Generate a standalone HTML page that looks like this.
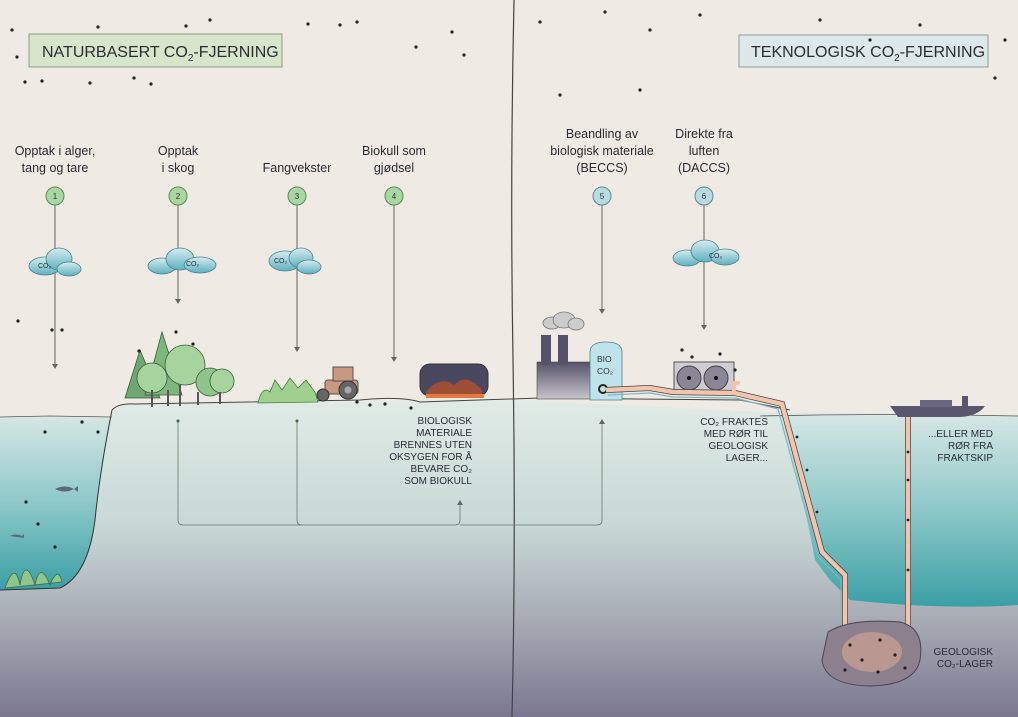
<!DOCTYPE html>
<html><head><meta charset="utf-8"><style>
html,body{margin:0;padding:0;width:1018px;height:717px;overflow:hidden;background:#efebe4}
svg{display:block;font-family:"Liberation Sans",sans-serif}
.l{font-size:12.5px;fill:#2a2a36}
.s{font-size:10px;fill:#2a2a36}
</style></head><body>
<svg width="1018" height="717" viewBox="0 0 1018 717" xmlns="http://www.w3.org/2000/svg">
<defs>
<linearGradient id="ug" x1="0" y1="0" x2="0" y2="1">
<stop offset="0" stop-color="#e0ebe6"/><stop offset="0.4" stop-color="#c8d8d6"/><stop offset="0.7" stop-color="#a7aab4"/><stop offset="1" stop-color="#7b7790"/></linearGradient>
<linearGradient id="wt" x1="0" y1="0" x2="0" y2="1">
<stop offset="0" stop-color="#d4e6e4"/><stop offset="0.5" stop-color="#8cc8c8"/><stop offset="1" stop-color="#3a9fa6"/></linearGradient>
<linearGradient id="cl" x1="0" y1="0" x2="0" y2="1">
<stop offset="0" stop-color="#d6ecef"/><stop offset="1" stop-color="#5fb0c0"/></linearGradient>
<linearGradient id="fc" x1="0" y1="0" x2="0" y2="1">
<stop offset="0" stop-color="#56526a"/><stop offset="1" stop-color="#c8c4cc"/></linearGradient>
</defs>
<rect width="1018" height="717" fill="#efebe4"/>
<path d="M0,417 L110,417 Q118,404 130,404 L520,400 L760,412 L1018,415 L1018,717 L0,717Z" fill="url(#ug)"/>
<path d="M0,418 L112,418 Q100,470 95,520 Q88,575 60,588 L0,590Z" fill="url(#wt)"/>
<path d="M112,410 Q100,470 95,520 Q88,575 60,588 L0,590" fill="none" stroke="#333" stroke-width="1"/>
<path d="M0,417 L50,416 L112,417" fill="none" stroke="#555" stroke-width="0.8"/>
<path d="M780,416 L1018,416 L1018,605 Q940,610 850,600 L830,580 L815,560 Q800,480 780,416Z" fill="url(#wt)"/>
<path d="M760,416 Q890,413 1018,416" fill="none" stroke="#555" stroke-width="0.8"/>
<path d="M112,410 Q118,403 135,404 L360,400 Q400,396 420,402 L540,398 L740,400 L790,410" fill="none" stroke="#444" stroke-width="1"/>
<path d="M514,0 Q510,180 513,360 Q516,540 512,717" fill="none" stroke="#444" stroke-width="1.2"/>
<rect x="29" y="34" width="253" height="33" fill="#d7e6cb" stroke="#8c9b88"/>
<text x="42" y="57" font-size="16" fill="#2c2c36">NATURBASERT CO<tspan font-size="10" dy="4">2</tspan><tspan dy="-4">-FJERNING</tspan></text>
<rect x="739" y="35" width="249" height="32" fill="#dce8e9" stroke="#8f9d9e"/>
<text x="751" y="57" font-size="16" fill="#2c2c36">TEKNOLOGISK CO<tspan font-size="10" dy="4">2</tspan><tspan dy="-4">-FJERNING</tspan></text>
<g class="l" text-anchor="middle">
<text x="55" y="155">Opptak i alger,</text><text x="55" y="172">tang og tare</text>
<text x="178" y="155">Opptak</text><text x="178" y="172">i skog</text>
<text x="297" y="172">Fangvekster</text>
<text x="394" y="155">Biokull som</text><text x="394" y="172">gjødsel</text>
<text x="602" y="138">Beandling av</text><text x="602" y="155">biologisk materiale</text><text x="602" y="172">(BECCS)</text>
<text x="704" y="138">Direkte fra</text><text x="704" y="155">luften</text><text x="704" y="172">(DACCS)</text>
</g>
<g stroke="#666" stroke-width="1" fill="none">
<line x1="55" y1="205" x2="55" y2="367"/><line x1="178" y1="205" x2="178" y2="302"/>
<line x1="297" y1="205" x2="297" y2="350"/><line x1="394" y1="205" x2="394" y2="360"/>
<line x1="602" y1="205" x2="602" y2="312"/><line x1="704" y1="205" x2="704" y2="328"/>
</g>
<g fill="#666">
<path d="M52,364 L55,369 L58,364Z"/><path d="M175,299 L178,304 L181,299Z"/><path d="M294,347 L297,352 L300,347Z"/>
<path d="M391,357 L394,362 L397,357Z"/><path d="M599,309 L602,314 L605,309Z"/><path d="M701,325 L704,330 L707,325Z"/>
</g>
<g font-size="8" text-anchor="middle" fill="#333">
<circle cx="55" cy="196" r="9" fill="#a9d7a2" stroke="#5a8a58"/><text x="55" y="199">1</text>
<circle cx="178" cy="196" r="9" fill="#a9d7a2" stroke="#5a8a58"/><text x="178" y="199">2</text>
<circle cx="297" cy="196" r="9" fill="#a9d7a2" stroke="#5a8a58"/><text x="297" y="199">3</text>
<circle cx="394" cy="196" r="9" fill="#a9d7a2" stroke="#5a8a58"/><text x="394" y="199">4</text>
<circle cx="602" cy="196" r="9" fill="#b7dbe0" stroke="#5a8a90"/><text x="602" y="199">5</text>
<circle cx="704" cy="196" r="9" fill="#b7dbe0" stroke="#5a8a90"/><text x="704" y="199">6</text>
</g>
<g fill="url(#cl)" stroke="#4a8090" stroke-width="0.8">
<g transform="translate(55,264)"><ellipse cx="-10" cy="2" rx="16" ry="9"/><ellipse cx="4" cy="-5" rx="13" ry="11"/><ellipse cx="14" cy="5" rx="12" ry="7"/></g>
<g transform="translate(180,263)"><ellipse cx="-18" cy="3" rx="14" ry="8"/><ellipse cx="0" cy="-4" rx="14" ry="11"/><ellipse cx="20" cy="2" rx="16" ry="8"/></g>
<g transform="translate(295,262)"><ellipse cx="-10" cy="-1" rx="16" ry="10"/><ellipse cx="6" cy="-4" rx="12" ry="10"/><ellipse cx="14" cy="5" rx="12" ry="7"/></g>
<g transform="translate(705,255)"><ellipse cx="-18" cy="3" rx="14" ry="8"/><ellipse cx="0" cy="-4" rx="14" ry="11"/><ellipse cx="20" cy="2" rx="14" ry="8"/></g>
</g>
<g font-size="7" fill="#234">
<text x="38" y="268">CO₂</text><text x="186" y="266">CO₂</text><text x="274" y="263">CO₂</text><text x="709" y="258">CO₂</text>
</g>
<g stroke="#3c5a40" stroke-width="0.8">
<path d="M125,398 L140,350 L160,398Z" fill="#6ea870"/>
<path d="M145,395 L162,332 L182,395Z" fill="#7fb67d"/>
<circle cx="152" cy="378" r="15" fill="#a6d49c"/>
<circle cx="185" cy="365" r="20" fill="#a6d49c"/>
<circle cx="210" cy="382" r="14" fill="#8fc58a"/>
<circle cx="222" cy="381" r="12" fill="#a6d49c"/>
</g>
<g stroke="#555" stroke-width="2"><line x1="152" y1="390" x2="152" y2="407"/><line x1="168" y1="390" x2="168" y2="406"/><line x1="180" y1="385" x2="180" y2="406"/><line x1="198" y1="392" x2="198" y2="405"/><line x1="220" y1="392" x2="220" y2="404"/></g>
<path d="M258,403 Q262,385 270,392 L275,380 L282,390 L290,378 L298,388 L306,380 L315,392 L318,402Z" fill="#9fd08f" stroke="#4a7a48" stroke-width="0.8"/>
<rect x="325" y="380" width="33" height="14" rx="3" fill="#c89882" stroke="#555"/>
<rect x="333" y="367" width="20" height="14" fill="#c89882" stroke="#555"/>
<circle cx="348" cy="390" r="9" fill="#666" stroke="#333"/><circle cx="348" cy="390" r="3.5" fill="#aaa"/>
<circle cx="323" cy="395" r="6" fill="#666" stroke="#333"/>
<rect x="420" y="364" width="68" height="32" rx="10" fill="#4a4860" stroke="#333"/>
<path d="M426,392 Q440,375 454,385 Q466,372 482,390 L482,394 L426,394Z" fill="#b0502c" opacity="0.8"/>
<rect x="426" y="394" width="58" height="4" fill="#e07a40"/>
<rect x="537" y="362" width="54" height="37" fill="url(#fc)" stroke="#444" stroke-width="0.6"/>
<rect x="541" y="335" width="10" height="30" fill="#56526a"/><rect x="558" y="335" width="10" height="30" fill="#56526a"/>
<g fill="#ccc" stroke="#777" stroke-width="0.8"><ellipse cx="552" cy="323" rx="9" ry="6"/><ellipse cx="564" cy="320" rx="11" ry="8"/><ellipse cx="576" cy="324" rx="8" ry="6"/></g>
<path d="M590,400 L590,352 Q590,342 606,342 Q622,342 622,352 L622,400Z" fill="#bfe3ea" stroke="#4a8090" stroke-width="0.8"/>
<text x="597" y="362" font-size="8.5" fill="#333">BIO</text><text x="597" y="374" font-size="8.5" fill="#333">CO₂</text>
<circle cx="603" cy="389" r="4" fill="none" stroke="#222" stroke-width="2"/>
<rect x="674" y="362" width="60" height="32" fill="#cfcdd3" stroke="#555"/>
<circle cx="689" cy="378" r="12" fill="#8a8696" stroke="#444"/><circle cx="716" cy="378" r="12" fill="#8a8696" stroke="#444"/>
<circle cx="689" cy="378" r="2" fill="#111"/><circle cx="716" cy="378" r="2" fill="#111"/>
<path d="M608,395 L650,393 L673,397 L735,398 L778,409 L818,557 L841,580 L841,625" fill="none" stroke="#7fb6c4" stroke-width="1.2"/>
<path d="M606,390 L650,388 L673,392 L735,393 L782,404 L822,552 L845,575 L845,625" fill="none" stroke="#444" stroke-width="6"/>
<path d="M606,390 L650,388 L673,392 L735,393 L782,404 L822,552 L845,575 L845,625" fill="none" stroke="#f2c4ae" stroke-width="4.5"/>
<path d="M734,394 L734,383 L740,383" fill="none" stroke="#f2c4ae" stroke-width="4"/>
<line x1="908" y1="416" x2="908" y2="625" stroke="#444" stroke-width="6"/>
<line x1="908" y1="416" x2="908" y2="625" stroke="#f2c4ae" stroke-width="4.5"/>
<path d="M890,406 L985,406 Q978,416 960,417 L898,417Z" fill="#5a5670"/>
<rect x="920" y="400" width="32" height="7" fill="#6a6680"/><rect x="962" y="396" width="6" height="10" fill="#5a5670"/>
<path d="M828,632 Q850,618 900,622 Q925,628 920,660 Q915,685 870,686 Q825,685 822,660Z" fill="#8c7f8e" stroke="#4a4458"/>
<ellipse cx="872" cy="652" rx="30" ry="20" fill="#d9a892" opacity="0.6"/>
<g fill="none" stroke="#6a7a68" stroke-width="0.8">
<path d="M178,420 L178,520 Q178,525 183,525 L455,525 Q460,525 460,520 L460,503"/>
<path d="M297,420 L297,520 Q297,525 302,525"/>
<path d="M460,525 L597,525 Q602,525 602,520 L602,422"/>
</g>
<path d="M457,505 L460,500 L463,505Z" fill="#666"/><path d="M599,424 L602,419 L605,424Z" fill="#666"/>
<circle cx="178" cy="421" r="1.5" fill="#3a6a3a"/><circle cx="297" cy="421" r="1.5" fill="#3a6a3a"/>
<path d="M55,489 Q65,484 74,489 L78,486 L78,492 L74,489 Q65,494 55,489Z" fill="#5a6a78"/>
<path d="M10,536 Q16,533 22,536 L24,534 L24,538Z" fill="#5a6a78"/>
<path d="M5,588 Q15,560 20,585 Q25,555 35,585 Q40,560 50,585 Q58,565 62,582Z" fill="#8fc58a" stroke="#3f6a4a" stroke-width="0.8"/>
<g class="s" text-anchor="end">
<text x="472" y="424">BIOLOGISK</text><text x="472" y="436">MATERIALE</text><text x="472" y="448">BRENNES UTEN</text><text x="472" y="460">OKSYGEN FOR Å</text><text x="472" y="472">BEVARE CO₂</text><text x="472" y="484">SOM BIOKULL</text>
<text x="768" y="425">CO₂ FRAKTES</text><text x="768" y="437">MED RØR TIL</text><text x="768" y="449">GEOLOGISK</text><text x="768" y="461">LAGER...</text>
<text x="993" y="437">...ELLER MED</text><text x="993" y="449">RØR FRA</text><text x="993" y="461">FRAKTSKIP</text>
<text x="993" y="655">GEOLOGISK</text><text x="993" y="667">CO₂-LAGER</text>
</g>
<g fill="#222">
<circle cx="12" cy="30" r="1.6"/><circle cx="98" cy="27" r="1.6"/><circle cx="186" cy="26" r="1.6"/><circle cx="210" cy="20" r="1.6"/><circle cx="308" cy="24" r="1.6"/><circle cx="340" cy="25" r="1.6"/><circle cx="357" cy="22" r="1.6"/><circle cx="452" cy="32" r="1.6"/><circle cx="17" cy="57" r="1.6"/><circle cx="25" cy="82" r="1.6"/><circle cx="42" cy="81" r="1.6"/><circle cx="90" cy="83" r="1.6"/><circle cx="134" cy="78" r="1.6"/><circle cx="151" cy="84" r="1.6"/><circle cx="416" cy="47" r="1.6"/><circle cx="464" cy="55" r="1.6"/>
<circle cx="540" cy="22" r="1.6"/><circle cx="605" cy="12" r="1.6"/><circle cx="650" cy="30" r="1.6"/><circle cx="700" cy="15" r="1.6"/><circle cx="820" cy="20" r="1.6"/><circle cx="870" cy="40" r="1.6"/><circle cx="920" cy="25" r="1.6"/><circle cx="995" cy="78" r="1.6"/><circle cx="1005" cy="40" r="1.6"/><circle cx="560" cy="95" r="1.6"/><circle cx="640" cy="90" r="1.6"/>
<circle cx="18" cy="321" r="1.6"/><circle cx="52" cy="330" r="1.6"/><circle cx="62" cy="330" r="1.6"/><circle cx="45" cy="432" r="1.6"/><circle cx="82" cy="422" r="1.6"/><circle cx="98" cy="432" r="1.6"/><circle cx="26" cy="502" r="1.6"/><circle cx="38" cy="524" r="1.6"/><circle cx="55" cy="547" r="1.6"/>
<circle cx="139" cy="351" r="1.6"/><circle cx="176" cy="332" r="1.6"/><circle cx="193" cy="344" r="1.6"/><circle cx="357" cy="402" r="1.6"/><circle cx="370" cy="405" r="1.6"/><circle cx="385" cy="404" r="1.6"/><circle cx="411" cy="408" r="1.6"/>
<circle cx="682" cy="350" r="1.6"/><circle cx="692" cy="357" r="1.6"/><circle cx="720" cy="354" r="1.6"/><circle cx="735" cy="370" r="1.6"/>
<circle cx="850" cy="645" r="1.6"/><circle cx="862" cy="660" r="1.6"/><circle cx="880" cy="640" r="1.6"/><circle cx="895" cy="655" r="1.6"/><circle cx="845" cy="670" r="1.6"/><circle cx="878" cy="672" r="1.6"/><circle cx="905" cy="668" r="1.6"/>
<circle cx="908" cy="452" r="1.4"/><circle cx="908" cy="480" r="1.4"/><circle cx="908" cy="520" r="1.4"/><circle cx="908" cy="570" r="1.4"/><circle cx="797" cy="437" r="1.4"/><circle cx="807" cy="470" r="1.4"/><circle cx="817" cy="512" r="1.4"/>
</g>
</svg>
</body></html>
